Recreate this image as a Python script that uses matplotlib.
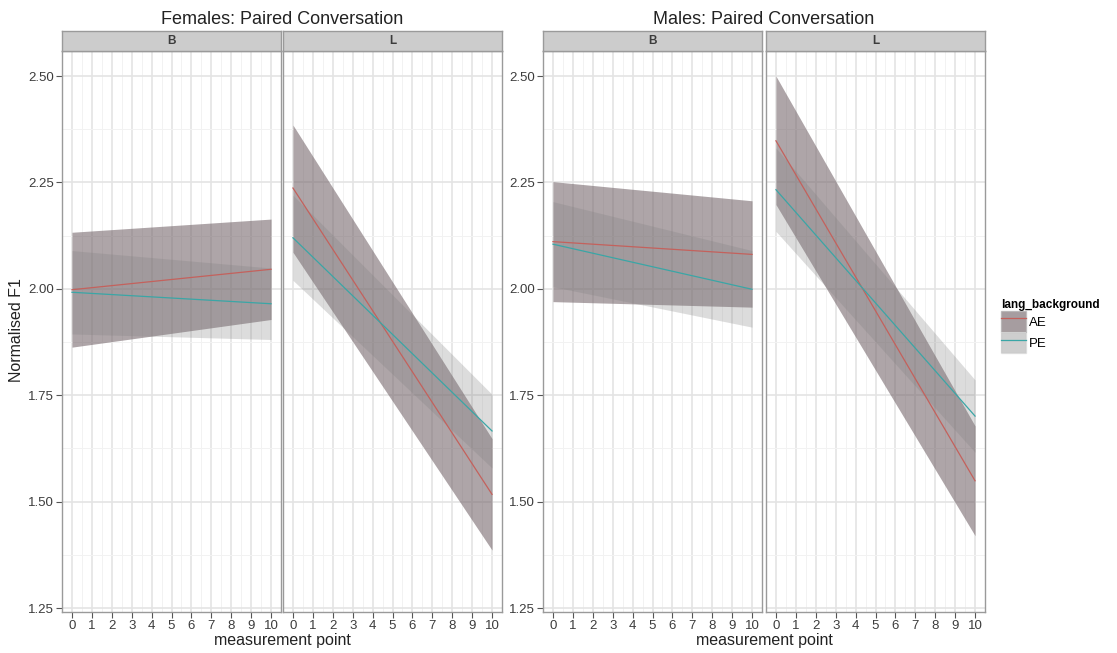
import matplotlib
matplotlib.use('Agg')
import matplotlib.pyplot as plt
from matplotlib.patches import Patch
from matplotlib.lines import Line2D
from matplotlib.ticker import MultipleLocator

plt.rcParams['font.family'] = ['Liberation Sans', 'DejaVu Sans']

# measurement points where fits/bands were read
x_pts = [0, 10]
groups = ['AE', 'PE']
panels = ['B', 'L']
titles = ['Females: Paired Conversation', 'Males: Paired Conversation']

# Females, panel B
fem_B_AE_fit = [1.998, 2.046]
fem_B_AE_lo = [1.863, 1.928]
fem_B_AE_hi = [2.133, 2.164]
fem_B_PE_fit = [1.992, 1.965]
fem_B_PE_lo = [1.894, 1.881]
fem_B_PE_hi = [2.090, 2.049]
# Females, panel L
fem_L_AE_fit = [2.237, 1.517]
fem_L_AE_lo = [2.086, 1.386]
fem_L_AE_hi = [2.385, 1.648]
fem_L_PE_fit = [2.120, 1.666]
fem_L_PE_lo = [2.020, 1.579]
fem_L_PE_hi = [2.220, 1.752]
# Males, panel B
mal_B_AE_fit = [2.111, 2.081]
mal_B_AE_lo = [1.970, 1.957]
mal_B_AE_hi = [2.252, 2.207]
mal_B_PE_fit = [2.105, 1.999]
mal_B_PE_lo = [2.005, 1.910]
mal_B_PE_hi = [2.205, 2.090]
# Males, panel L
mal_L_AE_fit = [2.348, 1.549]
mal_L_AE_lo = [2.198, 1.420]
mal_L_AE_hi = [2.500, 1.678]
mal_L_PE_fit = [2.233, 1.701]
mal_L_PE_lo = [2.135, 1.616]
mal_L_PE_hi = [2.331, 1.786]

data = {
    (0, 'B'): {'AE': (fem_B_AE_fit, fem_B_AE_lo, fem_B_AE_hi), 'PE': (fem_B_PE_fit, fem_B_PE_lo, fem_B_PE_hi)},
    (0, 'L'): {'AE': (fem_L_AE_fit, fem_L_AE_lo, fem_L_AE_hi), 'PE': (fem_L_PE_fit, fem_L_PE_lo, fem_L_PE_hi)},
    (1, 'B'): {'AE': (mal_B_AE_fit, mal_B_AE_lo, mal_B_AE_hi), 'PE': (mal_B_PE_fit, mal_B_PE_lo, mal_B_PE_hi)},
    (1, 'L'): {'AE': (mal_L_AE_fit, mal_L_AE_lo, mal_L_AE_hi), 'PE': (mal_L_PE_fit, mal_L_PE_lo, mal_L_PE_hi)},
}

line_col = {'AE': '#c4615c', 'PE': '#3aa6a6'}
band_col = {'AE': '#78696e', 'PE': '#808080'}
band_alpha = {'AE': 0.6, 'PE': 0.27}
border = '#9a9a9a'
txt = '#3c3c3c'

W, H = 1117, 653
fig = plt.figure(figsize=(W / 100, H / 100), dpi=100)

left_px = [[62, 283], [543, 766]]
pw = 219
top_px, bot_px, strip_px = 51, 612, 31

for g in range(2):
    for p, pan in enumerate(panels):
        x0 = left_px[g][p]
        ax = fig.add_axes([x0 / W, 1 - bot_px / H, pw / W, (bot_px - top_px) / H])
        for grp in groups:
            fit, lo, hi = data[(g, pan)][grp]
            ax.fill_between(x_pts, lo, hi, color=band_col[grp], alpha=band_alpha[grp],
                            linewidth=0, zorder=2)
        for grp in groups:
            fit, lo, hi = data[(g, pan)][grp]
            ax.plot(x_pts, fit, color=line_col[grp], lw=0.9, zorder=3)
        ax.set_xlim(-0.5, 10.5)
        ax.set_ylim(1.2406, 2.559)
        ax.xaxis.set_major_locator(MultipleLocator(1))
        ax.xaxis.set_minor_locator(MultipleLocator(0.5))
        ax.yaxis.set_major_locator(MultipleLocator(0.25))
        ax.yaxis.set_minor_locator(MultipleLocator(0.125))
        ax.grid(which='major', color='#e4e4e4', lw=1.2, zorder=0)
        ax.grid(which='minor', color='#f2f2f2', lw=0.7, zorder=0)
        ax.set_axisbelow(True)
        for s in ax.spines.values():
            s.set_color(border)
            s.set_linewidth(1.0)
        ax.tick_params(which='minor', length=0)
        ax.tick_params(which='major', length=4, width=0.8, color='#555555',
                       labelsize=9.5, labelcolor=txt, pad=2)
        if p == 0:
            ax.set_yticklabels([f'{v:.2f}' for v in ax.get_yticks()])
        else:
            ax.tick_params(axis='y', length=0, labelleft=False)
        # strip
        sax = fig.add_axes([x0 / W, 1 - top_px / H, pw / W, (top_px - strip_px) / H])
        sax.set_facecolor('#cccccc')
        sax.set_xticks([])
        sax.set_yticks([])
        for s in sax.spines.values():
            s.set_color(border)
            s.set_linewidth(1.0)
        sax.text(0.5, 0.5, pan, ha='center', va='center', fontsize=8.5,
                 fontweight='bold', color=txt, transform=sax.transAxes)

    cx = (left_px[g][0] + left_px[g][1] + pw) / 2 / W
    fig.text(cx, 1 - 19 / H, titles[g], ha='center', va='center', fontsize=13, color='#222222')
    fig.text(cx, 1 - 640 / H, 'measurement point', ha='center', va='center', fontsize=11.5, color='#222222')

fig.text(17 / W, 1 - 330 / H, 'Normalised F1', rotation=90, ha='center', va='center',
         fontsize=11.5, color='#222222')

handles = []
for grp in groups:
    handles.append((Patch(facecolor='#ebebeb', edgecolor='none'),
                    Patch(facecolor=band_col[grp], alpha=band_alpha[grp], edgecolor='#b0b0b0'),
                    Line2D([], [], color=line_col[grp], lw=0.9)))
leg = fig.legend(handles, groups, loc='upper left', bbox_to_anchor=(1001 / W, 1 - 299 / H),
                 frameon=False, fontsize=9.5, handlelength=1.9, handleheight=2.1,
                 handletextpad=0.25, labelspacing=0.0, borderaxespad=0, borderpad=0,
                 title='lang_background', title_fontproperties={'weight': 'bold', 'size': 8.5})
leg._legend_box.align = 'left'

fig.savefig('out.png', dpi=100)
